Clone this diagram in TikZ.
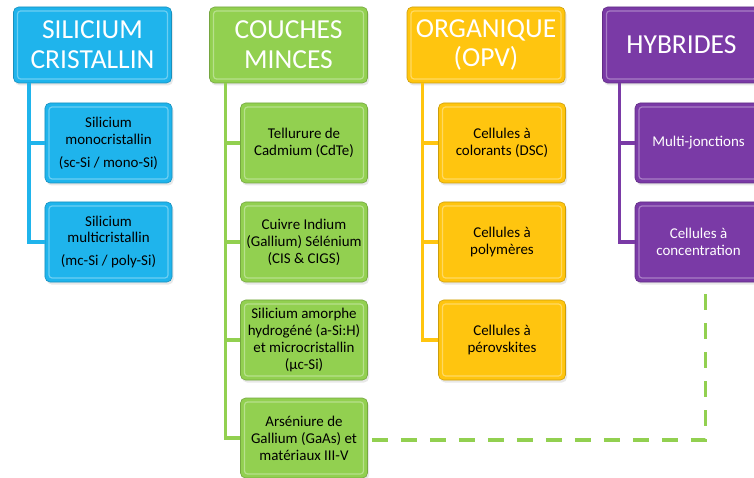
\documentclass[tikz,border=0pt]{standalone}
\usepackage{fontspec}
\setmainfont{Carlito}
\usetikzlibrary{shadows,calc}
\definecolor{cblue}{HTML}{1FB4EC}
\definecolor{cgreen}{HTML}{92D050}
\definecolor{cyellow}{HTML}{FFC50F}
\definecolor{cpurple}{HTML}{7A3AA6}
\tikzset{
  bevel/.style={rounded corners=5bp, draw=#1!80!black, line width=0.6bp, fill=#1,
    drop shadow={opacity=0.18, shadow xshift=1.5bp, shadow yshift=-2.5bp},
    path picture={\draw[white, opacity=0.35, line width=1.2bp, rounded corners=3bp]
      ([shift={(4bp,4bp)}]path picture bounding box.south west) rectangle
      ([shift={(-4bp,-4bp)}]path picture bounding box.north east);}},
  hdr/.style={bevel=#1, minimum width=158bp, minimum height=76bp, align=center,
    text=white, font=\fontsize{27.6}{30}\selectfont, inner sep=0pt},
  kid/.style={bevel=#1, minimum width=127bp, minimum height=80bp, align=center,
    text=black, font=\fontsize{15}{17}\selectfont, inner sep=0pt},
  conn/.style={draw=#1, line width=3.4bp},
  dashconn/.style={draw=cgreen, line width=3.6bp, dash pattern=on 16bp off 13bp},
}
\begin{document}
\begin{tikzpicture}[x=1bp,y=-1bp]
\useasboundingbox (0,0) rectangle (754,478);
\clip (0,0) rectangle (754,478);
% headers
\node[hdr=cblue] (sil) at (92.5,45) {SILICIUM\\CRISTALLIN};
\node[hdr=cgreen] (cou) at (288.5,45) {COUCHES\\MINCES};
\node[hdr=cyellow] (org) at (486,45) {ORGANIQUE\\(OPV)};
\node[hdr=cpurple] (hyb) at (681.5,45) {HYBRIDES};
% connector anchors
\coordinate (silx) at ([xshift=16bp]sil.south west);
\coordinate (coux) at ([xshift=16bp]cou.south west);
\coordinate (orgx) at ([xshift=16bp]org.south west);
\coordinate (hybx) at ([xshift=17bp]hyb.south west);
% children
\node[kid=cblue] (s1) at (108.5,143) {Silicium\\monocristallin\\[6bp](sc-Si / mono-Si)};
\node[kid=cblue] (s2) at (108.5,242) {Silicium\\multicristallin\\[6bp](mc-Si / poly-Si)};
\node[kid=cgreen] (c1) at (304,143) {Tellurure de\\Cadmium (CdTe)};
\node[kid=cgreen] (c2) at (304,242) {Cuivre Indium\\(Gallium) Sélénium\\(CIS \& CIGS)};
\node[kid=cgreen] (c3) at (304,340) {Silicium amorphe\\hydrogéné (a-Si:H)\\et microcristallin\\(µc-Si)};
\node[kid=cgreen] (c4) at (304,438) {Arséniure de\\Gallium (GaAs) et\\matériaux III-V};
\node[kid=cyellow] (o1) at (502,143) {Cellules à\\colorants (DSC)};
\node[kid=cyellow] (o2) at (502,242) {Cellules à\\polymères};
\node[kid=cyellow] (o3) at (502,340) {Cellules à\\pérovskites};
\node[kid=cpurple, text=white] (h1) at (698.5,143) {Multi-jonctions};
\node[kid=cpurple, text=white] (h2) at (698.5,242) {Cellules à\\concentration};
% connectors
\draw[conn=cblue] (silx) |- (s2.west);
\draw[conn=cblue] (silx |- s1.west) -- (s1.west);
\draw[conn=cgreen] (coux) |- (c4.west);
\draw[conn=cgreen] (coux |- c1.west) -- (c1.west);
\draw[conn=cgreen] (coux |- c2.west) -- (c2.west);
\draw[conn=cgreen] (coux |- c3.west) -- (c3.west);
\draw[conn=cyellow] (orgx) |- (o3.west);
\draw[conn=cyellow] (orgx |- o1.west) -- (o1.west);
\draw[conn=cyellow] (orgx |- o2.west) -- (o2.west);
\draw[conn=cpurple] (hybx) |- (h2.west);
\draw[conn=cpurple] (hybx |- h1.west) -- (h1.west);
\draw[dashconn] ([xshift=4bp,yshift=-2bp]c4.east) -| ([xshift=7bp]h2.south);
\end{tikzpicture}
\end{document}
